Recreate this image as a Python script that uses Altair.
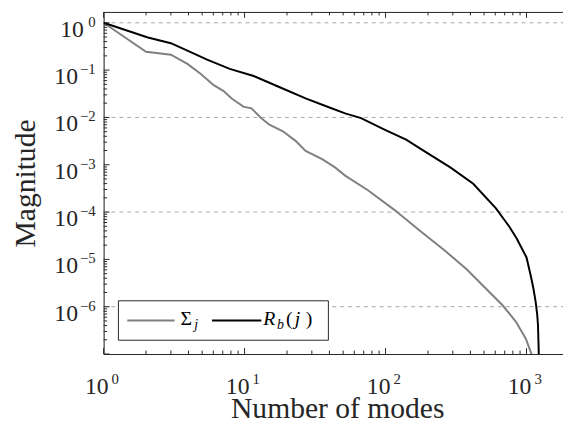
import altair as alt
import pandas as pd

# ---------------- data ----------------
sigma_n = [1, 2, 3, 3.93, 4.87, 6.04, 7.1, 8.1, 9.8, 11.2, 13.1, 15.0, 18.7, 23.1,
           27.1, 35.5, 43.8, 51.7, 75, 116, 178, 259, 376, 519, 679, 842, 989, 1089, 1110]
sigma_v = [1.0, 0.245, 0.212, 0.135, 0.084, 0.048, 0.036, 0.0252, 0.0169, 0.0156,
           0.0097, 0.0070, 0.0051, 0.00316, 0.00196, 0.00131, 8.8e-4, 5.9e-4, 2.9e-4,
           1.1e-4, 3.9e-5, 1.6e-5, 6.2e-6, 2.37e-6, 1.06e-6, 4.8e-7, 2.1e-7, 9.7e-8, 5e-8]

rb_n = [1, 2.06, 3, 3.93, 5.42, 7.85, 11.6, 17.6, 27.1, 40, 51.7, 67, 100, 140, 187,
        288, 419, 607, 756, 850, 937, 1000, 1072, 1120, 1162, 1190, 1206, 1218, 1228]
rb_v = [1.0, 0.49, 0.37, 0.257, 0.167, 0.106, 0.075, 0.044, 0.0252, 0.0162, 0.0122,
        0.0097, 5.4e-3, 3.4e-3, 1.96e-3, 8.8e-4, 3.97e-4, 1.2e-4, 4.9e-5, 2.8e-5,
        1.6e-5, 1.1e-5, 4.5e-6, 2.4e-6, 1.25e-6, 7e-7, 4.1e-7, 1.5e-7, 5e-8]

x_label_vals = [1, 10, 100, 1000]
x_label_exps = ["0", "1", "2", "3"]
y_label_vals = [1, 1e-1, 1e-2, 1e-3, 1e-4, 1e-5, 1e-6]
y_label_exps = ["0", "\u22121", "\u22122", "\u22123", "\u22124", "\u22125", "\u22126"]
grid_vals = [1, 1e-2, 1e-4, 1e-6]

x_major = [1, 10, 100, 1000]
x_minor = [k * 10 ** d for d in range(0, 3) for k in range(2, 10)]
y_major = [10.0 ** (-d) for d in range(0, 8)]
y_minor = [k * 10.0 ** (-d) for d in range(1, 8) for k in range(2, 10)]

# ---------------- layout ----------------
W, H = 466, 347
X_DOMAIN = [1, 1815]
Y_DOMAIN = [1e-7, 10 ** 0.229]
FONT = "Liberation Serif"
AX = "#262626"

xs = alt.Scale(type="log", domain=X_DOMAIN, nice=False)
ys = alt.Scale(type="log", domain=Y_DOMAIN, nice=False)
X_AX = alt.Axis(labels=False, ticks=False, grid=False, domainColor=AX, domainWidth=1,
                title="Number of modes", titleFont=FONT, titleFontSize=30,
                titleFontWeight="normal", titleColor=AX, titlePadding=40, titleX=237)
Y_AX = alt.Axis(labels=False, ticks=False, grid=False, domainColor=AX, domainWidth=1,
                title="Magnitude", titleFont=FONT, titleFontSize=30,
                titleFontWeight="normal", titleColor=AX, titlePadding=64)

def X(f):
    return alt.X(f"{f}:Q", scale=xs, axis=X_AX)

def Y(f):
    return alt.Y(f"{f}:Q", scale=ys, axis=Y_AX)

one = alt.Data(values=[{}])

sig_df = pd.DataFrame({"n": sigma_n, "v": sigma_v})
rb_df = pd.DataFrame({"n": rb_n, "v": rb_v})
grid_df = pd.DataFrame({"v": grid_vals})
xlab_df = pd.DataFrame({"n": x_label_vals, "e": x_label_exps})
ylab_df = pd.DataFrame({"v": y_label_vals, "e": y_label_exps})
xmaj_df = pd.DataFrame({"n": x_major})
xmin_df = pd.DataFrame({"n": x_minor})
ymaj_df = pd.DataFrame({"v": y_major})
ymin_df = pd.DataFrame({"v": y_minor})

grid = alt.Chart(grid_df).mark_rule(color="#a6a6a6", strokeWidth=1, strokeDash=[4, 4]).encode(
    y=Y("v"), x=alt.value(0), x2=alt.value(W))

line_sig = alt.Chart(sig_df).mark_line(color="#808080", strokeWidth=2, clip=True).encode(
    x=X("n"), y=Y("v"))
line_rb = alt.Chart(rb_df).mark_line(color="#000000", strokeWidth=2, clip=True).encode(
    x=X("n"), y=Y("v"))

# ticks (inward)
lt_maj = alt.Chart(ymaj_df).mark_rule(color=AX, strokeWidth=1).encode(
    y=Y("v"), x=alt.value(0), x2=alt.value(6))
lt_min = alt.Chart(ymin_df).mark_rule(color=AX, strokeWidth=1).encode(
    y=Y("v"), x=alt.value(0), x2=alt.value(3.5))
tp_maj = alt.Chart(xmaj_df).mark_rule(color=AX, strokeWidth=1).encode(
    x=X("n"), y=alt.value(0), y2=alt.value(6))
tp_min = alt.Chart(xmin_df).mark_rule(color=AX, strokeWidth=1).encode(
    x=X("n"), y=alt.value(0), y2=alt.value(3.5))
bt_maj = alt.Chart(xmaj_df).mark_rule(color=AX, strokeWidth=1).encode(
    x=X("n"), y=alt.value(H), y2=alt.value(H - 6))
bt_min = alt.Chart(xmin_df).mark_rule(color=AX, strokeWidth=1).encode(
    x=X("n"), y=alt.value(H), y2=alt.value(H - 3.5))
top_border = alt.Chart(one).mark_rule(color=AX, strokeWidth=1).encode(
    x=alt.value(0), x2=alt.value(W), y=alt.value(0.5))

# tick labels 10^k
ylab0 = alt.Chart(ylab_df[ylab_df.v == 1]).mark_text(
    text="10", align="right", baseline="alphabetic", dy=14, fontSize=24, font=FONT, color=AX
).encode(y=Y("v"), x=alt.value(-20))
ylabn = alt.Chart(ylab_df[ylab_df.v < 1]).mark_text(
    text="10", align="right", baseline="alphabetic", dy=14, fontSize=24, font=FONT, color=AX
).encode(y=Y("v"), x=alt.value(-26))
ylabe = alt.Chart(ylab_df).mark_text(
    align="right", baseline="alphabetic", dy=4, fontSize=15, font=FONT, color=AX
).encode(y=Y("v"), x=alt.value(-8), text="e:N")
xlabb = alt.Chart(xlab_df).mark_text(
    text="10", align="right", baseline="alphabetic", dx=5, fontSize=24, font=FONT, color=AX
).encode(x=X("n"), y=alt.value(H + 41))
xlabe = alt.Chart(xlab_df).mark_text(
    align="left", baseline="alphabetic", dx=8, fontSize=15, font=FONT, color=AX
).encode(x=X("n"), y=alt.value(H + 30), text="e:N")

# legend
leg_box = alt.Chart(one).mark_rect(fill="white", stroke=AX, strokeWidth=1).encode(
    x=alt.value(15), x2=alt.value(228), y=alt.value(293), y2=alt.value(333))
leg_l1 = alt.Chart(one).mark_rule(color="#808080", strokeWidth=2).encode(
    x=alt.value(24), x2=alt.value(72), y=alt.value(313))
leg_l2 = alt.Chart(one).mark_rule(color="#000000", strokeWidth=2).encode(
    x=alt.value(110), x2=alt.value(160), y=alt.value(313))

def ltext(t, x, y, size, italic=False):
    return alt.Chart(one).mark_text(
        text=t, align="left", baseline="alphabetic", fontSize=size, font=FONT,
        fontStyle="italic" if italic else "normal", color="#000000"
    ).encode(x=alt.value(x), y=alt.value(y))

legend_texts = [
    ltext("\u03a3", 78, 318, 20),
    ltext("j", 92, 322, 14, True),
    ltext("R", 162, 318, 20, True),
    ltext("b", 176, 322, 14, True),
    ltext("(", 185, 318, 20),
    ltext("j", 194, 318, 20, True),
    ltext(")", 205, 318, 20),
]

chart = alt.layer(
    grid, line_sig, line_rb,
    leg_box, leg_l1, leg_l2, *legend_texts,
    lt_maj, lt_min, tp_maj, tp_min, bt_maj, bt_min, top_border,
    ylab0, ylabn, ylabe, xlabb, xlabe,
).properties(
    width=W, height=H,
    padding={"left": 97, "top": 1, "right": 0, "bottom": 70},
    autosize=alt.AutoSizeParams(type="none"),
).configure_view(stroke=None).configure(background="white")

chart.save("out.html", embed_options={"renderer": "svg", "actions": False})
